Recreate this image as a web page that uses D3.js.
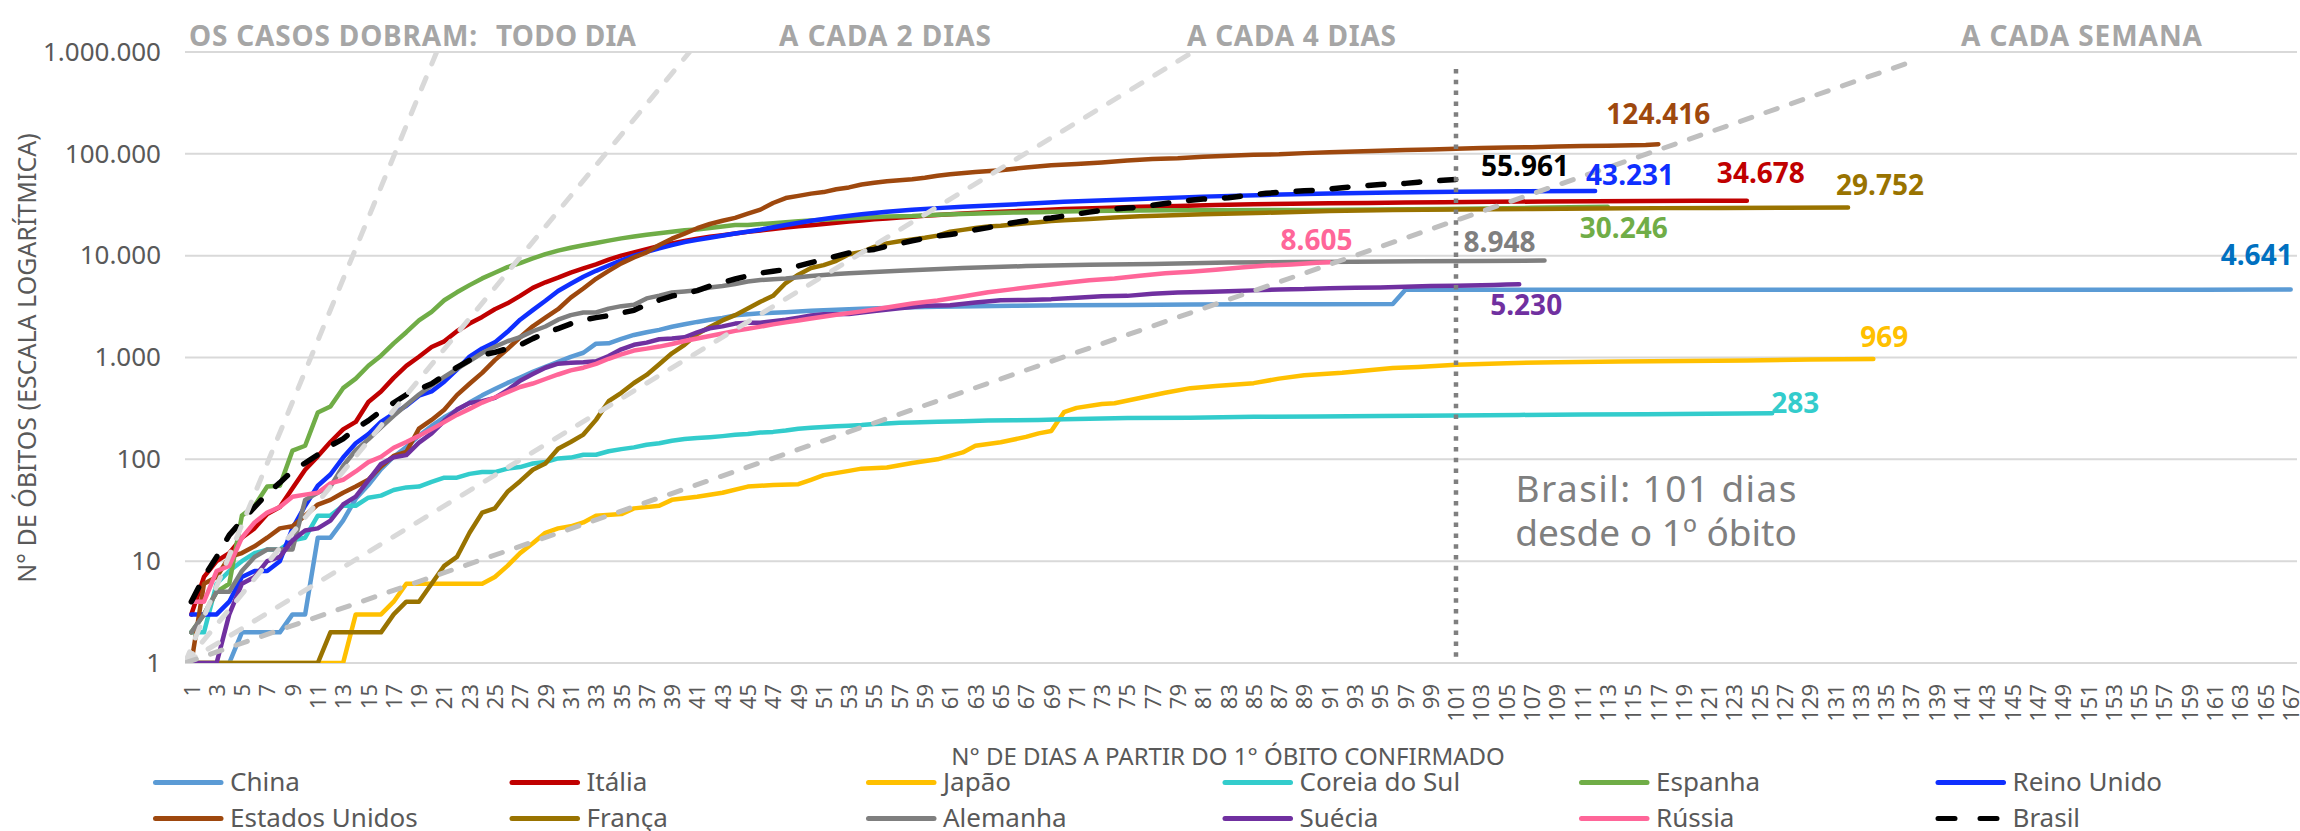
<!DOCTYPE html>
<html><head><meta charset="utf-8">
<script src="https://cdn.jsdelivr.net/npm/d3@7"></script>
<style>
html,body{margin:0;padding:0;background:#fff;}
svg{display:block;font-family:"Noto Sans",sans-serif;}
</style></head><body>
<svg id="chart" width="2300" height="831"></svg>
<script>
// ---------------- DATA (days since 1st confirmed death, cumulative deaths) ----------------
const seriesNames = ["China","Itália","Japão","Coreia do Sul","Espanha","Reino Unido","Estados Unidos","França","Alemanha","Suécia","Rússia","Brasil"];

const china = [[1,1],[4,1],[5,2],[8,2],[9,3],[10,3],[11,17],[12,17],[13,25],[14,41],[15,56],[16,80],[17,106],[18,132],[19,170],[20,213],[21,259],[22,304],[23,361],[24,425],[25,490],[26,563],[27,636],[28,722],[29,811],[30,908],[31,1016],[32,1113],[33,1367],[34,1380],[35,1523],[36,1665],[37,1770],[38,1868],[39,2004],[40,2118],[41,2236],[42,2345],[43,2442],[44,2592],[45,2663],[46,2715],[47,2744],[48,2788],[49,2835],[50,2870],[52,2943],[54,3012],[56,3070],[58,3119],[60,3158],[63,3189],[66,3226],[70,3255],[75,3285],[80,3308],[85,3330],[90,3339],[96,3346],[97,4632],[120,4634],[150,4634],[160,4638],[167,4641]];

const italia = [[1,3],[2,7],[3,10],[4,12],[5,17],[6,21],[7,29],[8,34],[9,52],[10,79],[11,107],[12,148],[13,197],[14,233],[15,366],[16,463],[17,631],[18,827],[19,1016],[20,1266],[21,1441],[22,1809],[23,2158],[24,2503],[25,2978],[26,3405],[27,4032],[28,4825],[29,5476],[30,6077],[31,6820],[32,7503],[33,8215],[34,9134],[35,10023],[36,10779],[37,11591],[38,12428],[39,13155],[40,13915],[41,14681],[42,15362],[43,15887],[44,16523],[45,17127],[46,17669],[47,18279],[48,18849],[49,19468],[50,19899],[51,20465],[52,21067],[53,21645],[54,22170],[55,22745],[56,23227],[57,23660],[58,24114],[59,24648],[60,25085],[62,25969],[64,26644],[66,27359],[68,27967],[70,28710],[73,29315],[76,30201],[79,30739],[82,31368],[85,31908],[88,32330],[91,32735],[94,32955],[97,33229],[100,33475],[104,33774],[108,34043],[112,34301],[116,34448],[120,34634],[124,34678]];

const japao = [[1,1],[13,1],[14,3],[16,3],[17,4],[18,6],[24,6],[25,7],[26,9],[27,12],[28,15],[29,19],[30,21],[31,22],[32,24],[33,28],[35,29],[36,33],[38,35],[39,40],[41,43],[43,47],[45,54],[47,56],[49,57],[50,63],[51,70],[53,77],[54,81],[56,83],[58,92],[60,100],[61,108],[62,117],[63,136],[65,147],[67,166],[68,180],[69,190],[70,290],[71,320],[73,350],[74,355],[76,400],[78,450],[80,500],[82,525],[85,560],[87,620],[89,670],[92,710],[96,790],[98,808],[101,850],[105,880],[109,900],[114,914],[119,922],[124,935],[129,955],[134,969]];

const coreia = [[1,2],[2,2],[3,6],[4,8],[5,10],[6,12],[7,13],[8,13],[9,16],[10,17],[11,28],[12,28],[13,35],[14,35],[15,42],[16,44],[17,50],[18,53],[19,54],[20,60],[21,66],[22,66],[23,72],[24,75],[25,75],[26,81],[27,84],[28,91],[29,94],[30,102],[31,104],[32,111],[33,111],[34,120],[35,126],[36,131],[37,139],[38,144],[39,152],[40,158],[41,162],[42,165],[43,169],[44,174],[45,177],[46,183],[47,186],[48,192],[49,200],[50,204],[51,208],[52,211],[53,214],[54,217],[55,222],[56,225],[57,229],[58,230],[60,234],[62,237],[64,240],[66,242],[68,244],[70,247],[75,254],[80,256],[85,262],[90,263],[95,266],[101,270],[106,273],[111,276],[116,277],[121,280],[126,283]];

const espanha = [[1,2],[2,3],[3,5],[4,6],[5,28],[6,35],[7,54],[8,55],[9,122],[10,136],[11,288],[12,330],[13,500],[14,620],[15,830],[16,1043],[17,1375],[18,1772],[19,2311],[20,2808],[21,3647],[22,4365],[23,5138],[24,5982],[25,6803],[26,7716],[27,8464],[28,9387],[29,10348],[30,11198],[31,11947],[32,12641],[33,13341],[34,14045],[35,14792],[36,15447],[37,16081],[38,16606],[39,17209],[40,17756],[41,18056],[42,18708],[43,19315],[44,20002],[45,20043],[46,20453],[47,20852],[48,21282],[49,21717],[50,22157],[52,22902],[54,23521],[56,24275],[58,24543],[60,25264],[62,25613],[64,26070],[66,26478],[68,26744],[70,27104],[72,27459],[74,27650],[76,27778],[78,27940],[82,28000],[90,28100],[100,28800],[107,29500],[113,30246]];

const reinoUnido = [[1,3],[2,3],[3,3],[4,4],[5,7],[6,8],[7,8],[8,10],[9,21],[10,35],[11,55],[12,71],[13,104],[14,144],[15,177],[16,233],[17,281],[18,335],[19,422],[20,465],[21,578],[22,759],[23,1019],[24,1228],[25,1408],[26,1789],[27,2352],[28,2921],[29,3605],[30,4500],[31,5300],[32,6200],[33,7100],[34,8000],[35,9000],[36,10000],[37,10900],[38,11800],[39,12700],[40,13600],[41,14300],[42,15000],[44,16500],[46,18000],[48,20000],[50,22000],[52,23800],[54,25500],[56,27000],[58,28200],[60,29300],[62,30300],[65,31400],[70,33800],[75,35700],[81,38000],[86,39500],[91,40700],[96,41700],[101,42400],[106,42800],[112,43231]];

const estadosUnidos = [[1,1],[2,6],[3,7],[4,11],[5,12],[6,14],[7,17],[8,21],[9,22],[10,28],[11,36],[12,40],[13,47],[14,54],[15,63],[16,85],[17,108],[18,118],[19,200],[20,244],[21,307],[22,427],[23,552],[24,706],[25,942],[26,1209],[27,1581],[28,2026],[29,2467],[30,2978],[31,3873],[32,4757],[33,5926],[34,7087],[35,8407],[36,9619],[37,10783],[38,12722],[39,14695],[40,16478],[41,18586],[42,20463],[43,22020],[44,23529],[45,25832],[46,28325],[47,32916],[48,36773],[49,38664],[50,40661],[51,42094],[52,44845],[53,46785],[54,49954],[55,51949],[56,53755],[57,54881],[58,56259],[59,58355],[60,60967],[61,62996],[63,66369],[65,68922],[67,73455],[69,77180],[71,79526],[73,82356],[75,85898],[77,88754],[79,90347],[81,93439],[83,95979],[85,97720],[87,98916],[89,101617],[91,103781],[93,105147],[95,107175],[97,109143],[99,110514],[101,112006],[103,113820],[105,115436],[107,116127],[109,117717],[111,119112],[113,120007],[115,121225],[116,122238],[117,124416]];

const franca = [[1,1],[11,1],[12,2],[16,2],[17,3],[18,4],[19,4],[20,6],[21,9],[22,11],[23,19],[24,30],[25,33],[26,48],[27,61],[28,79],[29,91],[30,127],[31,148],[32,175],[33,244],[34,372],[35,450],[36,562],[37,674],[38,860],[39,1100],[40,1331],[41,1696],[42,1995],[43,2314],[44,2606],[45,3024],[46,3523],[47,4032],[48,5387],[49,6507],[50,7560],[51,8078],[52,8911],[53,10328],[54,10869],[55,12210],[56,13197],[57,13832],[58,14393],[59,14967],[60,15729],[61,17167],[62,17920],[63,18681],[64,19323],[65,19718],[66,20265],[67,20796],[68,21340],[69,21856],[70,22245],[72,22856],[74,23660],[76,24376],[78,24760],[81,25531],[86,26380],[91,27529],[96,28022],[101,28367],[107,28805],[112,29111],[117,29299],[122,29410],[127,29603],[132,29752]];

const alemanha = [[1,2],[2,3],[3,5],[4,5],[5,8],[6,11],[7,13],[8,13],[9,13],[10,40],[11,47],[12,54],[13,86],[14,123],[15,157],[16,206],[17,267],[18,342],[19,433],[20,533],[21,645],[22,775],[23,920],[24,1107],[25,1275],[26,1444],[27,1584],[28,1810],[29,2016],[30,2349],[31,2607],[32,2767],[33,2767],[34,3022],[35,3194],[36,3294],[37,3804],[38,4052],[39,4352],[40,4459],[41,4586],[42,4862],[43,5033],[44,5279],[45,5575],[46,5760],[47,5877],[48,5976],[49,6126],[50,6314],[51,6467],[52,6623],[53,6736],[57,7092],[62,7549],[67,7897],[72,8144],[77,8283],[83,8555],[88,8673],[93,8735],[98,8791],[103,8885],[108,8948]];

const suecia = [[1,1],[3,1],[4,3],[5,6],[6,7],[7,10],[8,11],[9,16],[10,20],[11,21],[12,25],[13,36],[14,43],[15,62],[16,90],[17,105],[18,110],[19,146],[20,180],[21,239],[22,308],[23,358],[24,373],[25,401],[26,477],[27,591],[28,687],[29,793],[30,870],[31,887],[32,899],[33,919],[34,1033],[35,1203],[36,1333],[37,1400],[38,1511],[39,1540],[40,1580],[41,1765],[42,1937],[43,2021],[44,2152],[45,2192],[46,2194],[47,2274],[48,2355],[49,2462],[50,2586],[51,2653],[53,2679],[55,2854],[57,3040],[59,3220],[61,3256],[63,3460],[65,3646],[67,3679],[69,3743],[71,3871],[73,3992],[75,4029],[77,4220],[79,4350],[81,4395],[83,4468],[85,4562],[87,4659],[89,4694],[91,4795],[93,4854],[95,4874],[97,4939],[99,5041],[101,5053],[103,5122],[104,5161],[105,5209],[106,5230]];

const russia = [[1,4],[2,4],[3,8],[4,9],[5,17],[6,24],[7,30],[8,34],[9,43],[10,45],[11,47],[12,58],[13,63],[14,76],[15,94],[16,106],[17,130],[18,148],[19,170],[20,198],[21,232],[22,273],[23,313],[24,361],[25,405],[26,456],[27,513],[28,555],[29,615],[30,681],[31,747],[32,794],[33,867],[34,972],[35,1073],[36,1169],[37,1222],[38,1280],[39,1356],[40,1451],[41,1537],[42,1625],[43,1723],[44,1827],[45,1915],[46,2009],[47,2116],[48,2212],[49,2305],[50,2418],[52,2631],[54,2837],[56,3099],[58,3388],[60,3633],[62,3968],[64,4374],[66,4693],[68,5031],[70,5384],[72,5725],[74,5971],[76,6358],[78,6705],[80,6948],[82,7274],[84,7660],[86,7992],[88,8196],[90,8503],[91,8605]];

const brasilValues = [4,7,11,18,25,34,46,59,77,92,111,136,159,201,
 240,299,359,431,486,553,667,800,941,1057,1124,1223,1328,1532,1736,1924,2141,2347,2462,2575,2741,2906,3313,3670,4016,4205,4543,5017,5466,5901,
 6329,6750,7025,7321,7921,8536,9146,9897,10627,11123,11519,12400,13149,13993,14817,15633,16118,16792,17971,18859,20047,21048,22013,22666,23473,24512,25598,26754,27878,28834,29314,
 29937,31199,32548,34021,35026,35930,36455,37134,38406,39680,40919,41828,42720,43332,43959,45241,46510,47748,48954,49976,50617,51271,52645,53830,54971,55961];

// doubling reference lines (end points)
const refTodoDia  = [[0.5,1],[20.4,1000000]];
const ref2Dias    = [[0.5,1],[40.4,1000000]];
const ref4Dias    = [[0.5,1],[80.2,1000000]];
const refSemana   = [[0.5,1],[137,800000]];
const refTitles   = ["OS CASOS DOBRAM:","TODO DIA","A CADA 2 DIAS","A CADA 4 DIAS","A CADA SEMANA"];

const yTickValues = [1,10,100,1000,10000,100000,1000000];
const xTickValues = d3.range(1,168,2);
const brasilDay = 101;
const brasilNote = ["Brasil: 101 dias","desde o 1º óbito"];
const xTitle = "N° DE DIAS A PARTIR DO 1° ÓBITO CONFIRMADO";
const yTitle = "N° DE ÓBITOS (ESCALA LOGARÍTMICA)";

// ---------------- STYLE ----------------
const seriesData = {
  "China":china,"Itália":italia,"Japão":japao,"Coreia do Sul":coreia,"Espanha":espanha,
  "Reino Unido":reinoUnido,"Estados Unidos":estadosUnidos,"França":franca,"Alemanha":alemanha,
  "Suécia":suecia,"Rússia":russia,"Brasil":brasilValues.map((v,i)=>[i+1,v])
};
const colors = {"China":"#5B9BD5","Itália":"#C00000","Japão":"#FFC000","Coreia do Sul":"#33CCCC","Espanha":"#70AD47",
  "Reino Unido":"#0F2FFF","Estados Unidos":"#9E480E","França":"#997300","Alemanha":"#7F7F7F","Suécia":"#7030A0",
  "Rússia":"#FF6699","Brasil":"#000000"};
const labelColors = Object.assign({}, colors, {"China":"#0070C0"});
const labelPos = {
 "Estados Unidos":{dx:0,dy:-20,a:"middle"},
 "Brasil":{dx:25,dy:-4,a:"start"},
 "Reino Unido":{dx:-9,dy:-6,a:"start"},
 "Itália":{dx:-30,dy:-18,a:"start"},
 "França":{dx:-12,dy:-12,a:"start"},
 "Espanha":{dx:-28,dy:31,a:"start"},
 "Alemanha":{dx:-81,dy:-9,a:"start"},
 "Rússia":{dx:-49,dy:-12,a:"start"},
 "China":{dx:2,dy:-25,a:"end"},
 "Suécia":{dx:-29,dy:31,a:"start"},
 "Japão":{dx:-13,dy:-12,a:"start"},
 "Coreia do Sul":{dx:-1,dy:0,a:"start"}
};

const FONT = '"Noto Sans", sans-serif';
const plot = {left:185,right:2297,top:52,bottom:663};
const x = d3.scaleLinear().domain([0.5,167.5]).range([plot.left,plot.right]);
const y = d3.scaleLog().domain([1,1e6]).range([plot.bottom,plot.top]);
const loc = d3.formatLocale({decimal:",",thousands:".",grouping:[3],currency:["",""]});
const fmt = loc.format(",d");

const svg = d3.select("#chart");
svg.append("rect").attr("width",2300).attr("height",831).attr("fill","#fff");
svg.append("defs").append("clipPath").attr("id","clip").append("rect")
  .attr("x",plot.left).attr("y",plot.top).attr("width",plot.right-plot.left).attr("height",plot.bottom-plot.top);

// gridlines
svg.append("g").selectAll("line").data(yTickValues).join("line")
  .attr("x1",plot.left).attr("x2",plot.right)
  .attr("y1",d=>y(d)).attr("y2",d=>y(d))
  .attr("stroke","#D9D9D9").attr("stroke-width",2);

// y axis
const gy = svg.append("g").attr("transform",`translate(${plot.left},0)`)
  .call(d3.axisLeft(y).tickValues(yTickValues).tickFormat(fmt).tickSize(0).tickPadding(24));
gy.select(".domain").remove();
gy.selectAll("text").attr("font-size",26).attr("font-family",FONT).attr("fill","#595959");

// x axis
const gx = svg.append("g").attr("transform",`translate(0,${plot.bottom})`)
  .call(d3.axisBottom(x).tickValues(xTickValues).tickFormat(d3.format("d")).tickSize(0));
gx.select(".domain").remove();
gx.selectAll("text").attr("transform","rotate(-90)").attr("x",-21).attr("y",0).attr("dy","0.35em")
  .attr("text-anchor","end").attr("font-size",22).attr("font-family",FONT).attr("fill","#595959");

// axis titles
svg.append("text").attr("x",1228).attr("y",765).attr("text-anchor","middle")
  .attr("font-size",24).attr("font-family",FONT).attr("fill","#595959").text(xTitle);
svg.append("text").attr("transform","translate(26,358) rotate(-90)").attr("text-anchor","middle")
  .attr("dominant-baseline","central").attr("font-size",25).attr("font-family",FONT).attr("fill","#595959").text(yTitle);

// series
const line = d3.line().x(d=>x(d[0])).y(d=>y(d[1]));
const gs = svg.append("g").attr("clip-path","url(#clip)");
seriesNames.forEach(n=>{
  const p = gs.append("path").datum(seriesData[n]).attr("d",line).attr("fill","none")
    .attr("stroke",colors[n]).attr("stroke-linejoin","round").attr("stroke-linecap","round");
  if(n==="Brasil"){ p.attr("stroke-width",5.5).attr("stroke-dasharray","16,20"); }
  else p.attr("stroke-width",4.5);
});

// reference lines
const gr = svg.append("g").attr("clip-path","url(#clip)");
[[refTodoDia,"#D9D9D9"],[ref2Dias,"#D9D9D9"],[ref4Dias,"#D9D9D9"],[refSemana,"#BFBFBF"]].forEach(([pts,c])=>{
  gr.append("path").datum(pts).attr("d",line).attr("fill","none").attr("stroke",c)
    .attr("stroke-width",5).attr("stroke-linecap","round").attr("stroke-dasharray","12,15");
});

// Brasil vertical dotted line
svg.append("line").attr("x1",x(brasilDay)).attr("x2",x(brasilDay)).attr("y1",69).attr("y2",plot.bottom)
  .attr("stroke","#7F7F7F").attr("stroke-width",4.5).attr("stroke-dasharray","4.5,6.3");

// reference titles
const refTitleX = [189,496,779,1187,1961];
const refTitleW = [288,140,212,209,241];
refTitles.forEach((t,i)=>{
  svg.append("text").attr("x",refTitleX[i]).attr("y",46).attr("font-size",28).attr("font-weight",700)
    .attr("textLength",refTitleW[i]).attr("lengthAdjust","spacing")
    .attr("font-family",FONT).attr("fill","#A6A6A6").text(t);
});

// Brasil note
brasilNote.forEach((t,i)=>{
  const tx = svg.append("text").attr("x",1656).attr("y",502+i*44).attr("text-anchor","middle")
    .attr("font-size",37).attr("font-family",FONT).attr("fill","#7F7F7F").text(t);
  if(i===0) tx.attr("textLength",281).attr("lengthAdjust","spacing");
});

// end labels
seriesNames.forEach(n=>{
  const d = seriesData[n]; const last = d[d.length-1]; const lp = labelPos[n];
  svg.append("text").attr("x",x(last[0])+lp.dx).attr("y",y(last[1])+lp.dy).attr("text-anchor",lp.a)
    .attr("font-size",28).attr("font-weight",700).attr("font-family",FONT).attr("fill",labelColors[n])
    .text(fmt(last[1]));
});

// legend
const lg = svg.append("g");
seriesNames.forEach((n,i)=>{
  const col = i%6, row = Math.floor(i/6);
  const x0 = 153 + col*356.5, base = 791 + row*36, yc = base - 8.5;
  const l = lg.append("line").attr("x1",x0+2.5).attr("x2",x0+68).attr("y1",yc).attr("y2",yc)
    .attr("stroke",colors[n]).attr("stroke-width",5).attr("stroke-linecap","round");
  if(n==="Brasil") l.attr("stroke-dasharray","17,25");
  lg.append("text").attr("x",x0+77).attr("y",base).attr("font-size",26).attr("font-family",FONT)
    .attr("fill","#595959").text(n);
});
</script>
</body></html>
